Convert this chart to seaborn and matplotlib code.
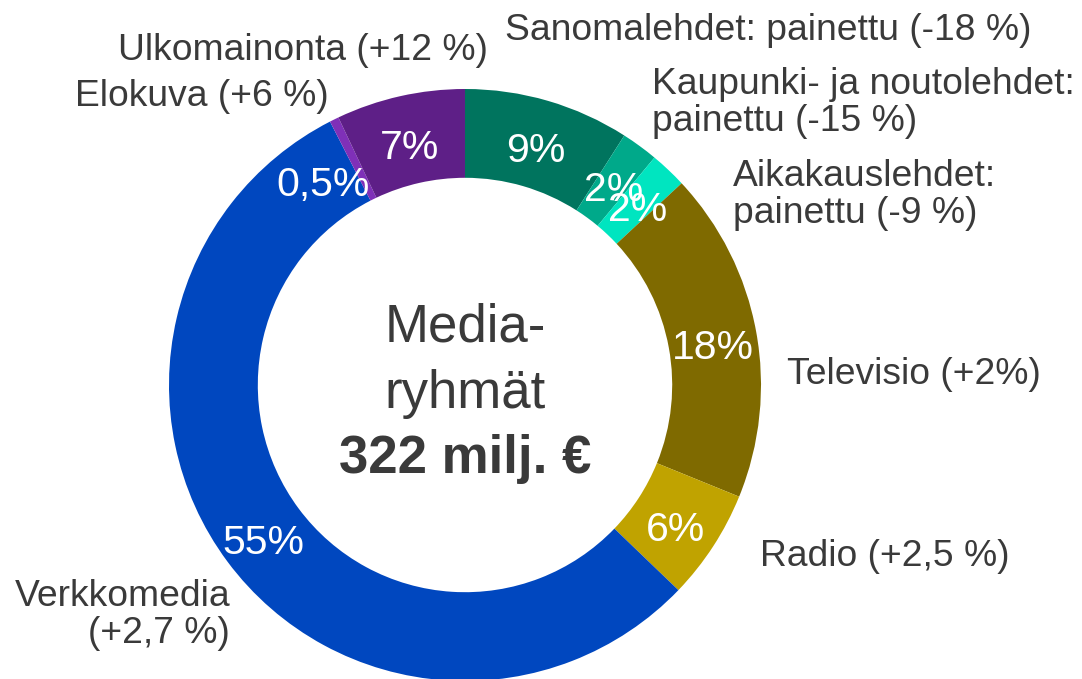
import matplotlib
matplotlib.use("Agg")
import matplotlib.pyplot as plt
import seaborn as sns
import numpy as np

# Media group advertising shares (share %, change noted in label)
categories = ["Sanomalehdet: painettu (-18 %)",
              "Kaupunki- ja noutolehdet:\npainettu (-15 %)",
              "Aikakauslehdet:\npainettu (-9 %)",
              "Televisio (+2%)",
              "Radio (+2,5 %)",
              "Verkkomedia\n(+2,7 %)",
              "Elokuva (+6 %)",
              "Ulkomainonta (+12 %)"]
shares = [9, 2, 2, 18, 6, 55, 0.5, 7]
colors = ["#00745E", "#00A98A", "#00E5C0", "#7F6A00",
          "#C0A300", "#0047BF", "#7F30B8", "#5E1F87"]

sns.set_theme(style="white")
plt.rcParams["font.family"] = ["Liberation Sans", "DejaVu Sans"]
TXT = "#3a3a3a"

W, H = 1082, 679
fig = plt.figure(figsize=(W / 100, H / 100), dpi=100)
cx, cy, R = 465, 385, 296
ax = fig.add_axes([(cx - R) / W, 1 - (cy + R) / H, 2 * R / W, 2 * R / H])

width = 0.30
wedges, _ = ax.pie(shares, colors=colors, startangle=90, counterclock=False,
                   radius=1, wedgeprops=dict(width=width, linewidth=0))
# pie resets the limits, so set them afterwards
ax.set_xlim(-1, 1)
ax.set_ylim(-1, 1)
ax.set_aspect("equal")
ax.axis("off")

# percentage labels in the middle of the ring
# (the tiny Elokuva label is pushed a bit towards the blue slice, like the original)
nudge = {6: 8}
for i, (w, v) in enumerate(zip(wedges, shares)):
    mid = (w.theta1 + w.theta2) / 2 + nudge.get(i, 0)
    ang = np.deg2rad(mid)
    r = 1 - width / 2
    lab = f"{v:g}%".replace(".", ",")
    ax.text(r * np.cos(ang), r * np.sin(ang) - 8 / R, lab, color="white",
            fontsize=29.5, ha="center", va="center", clip_on=False)

# center text
ax.text(0, (cy - 327) / R, "Media-", ha="center", va="center", fontsize=38, color=TXT)
ax.text(0, (cy - 394) / R, "ryhmät", ha="center", va="center", fontsize=38, color=TXT)
ax.text(0, (cy - 459) / R, "322 milj. €", ha="center", va="center", fontsize=38,
        fontweight="bold", color=TXT)

# outer category labels (pixel anchors)
label_pos = [(505, 30, "left"), (652, 103, "left"), (733, 195, "left"),
             (787, 375, "left"), (760, 557, "left"), (230, 615, "right"),
             (75, 97, "left"), (118, 50, "left")]
for text, (px, py, ha) in zip(categories, label_pos):
    fig.text(px / W, 1 - py / H, text, ha=ha, va="center", fontsize=26.8,
             color=TXT, linespacing=1.05, multialignment=ha)

fig.savefig("out.png", dpi=100)
